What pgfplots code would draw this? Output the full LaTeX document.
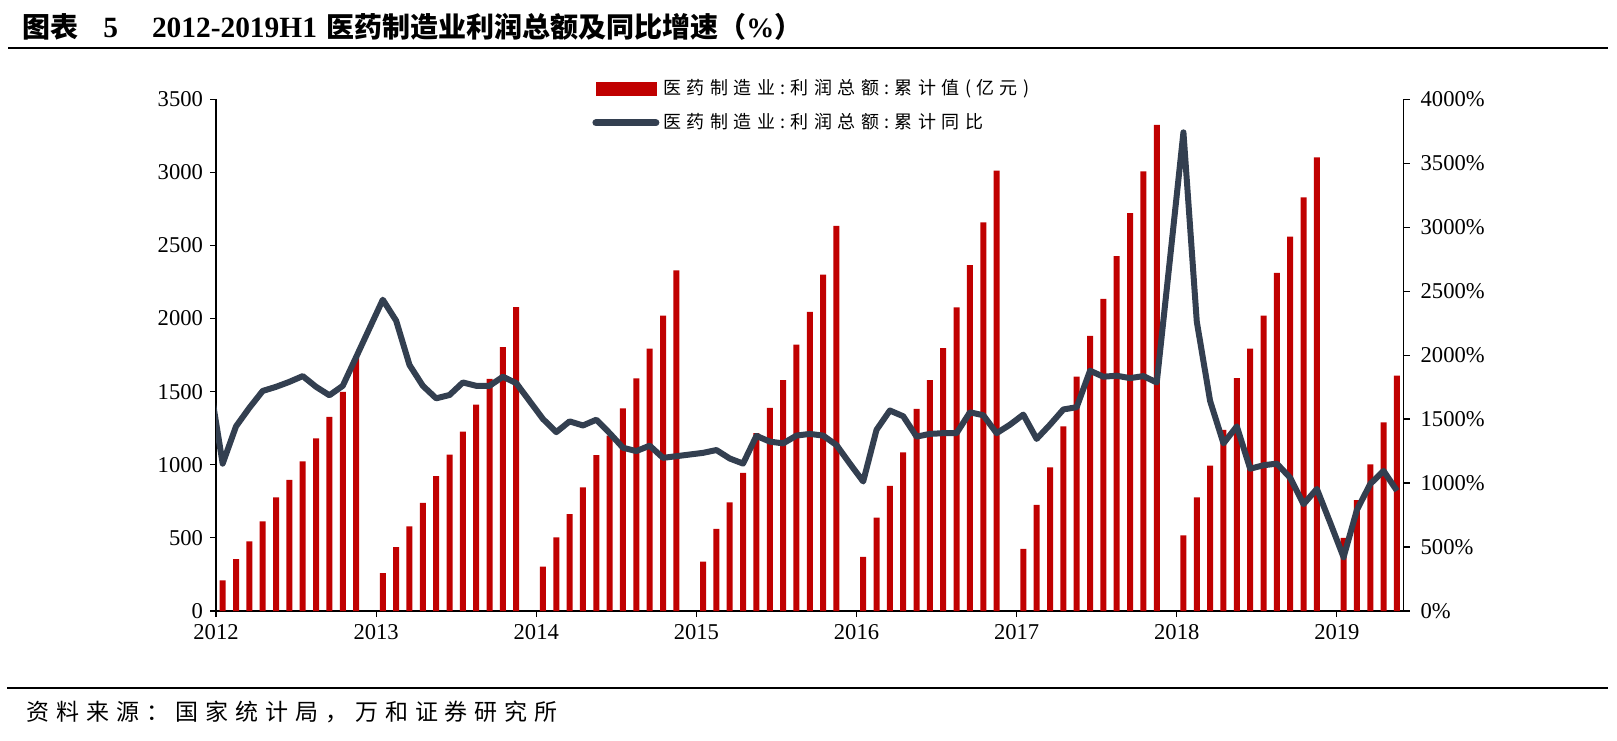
\documentclass[border=0pt]{standalone}
\usepackage{fontspec}
\setmainfont{Liberation Serif}
\newfontfamily\cjk{Noto Sans CJK SC}
\newfontfamily\cjksp[LetterSpace=30]{Noto Sans CJK SC}
\usepackage{pgfplots}
\pgfplotsset{compat=1.18}
\definecolor{barred}{HTML}{C00000}
\definecolor{linegray}{HTML}{333F50}

% cumulative profit (100 million yuan), x = month position
\pgfplotstableread{
x y
0.5 210
1.5 354
2.5 476
3.5 613
4.5 777
5.5 897
6.5 1024
7.5 1181
8.5 1327
9.5 1498
10.5 1736
12.5 259
13.5 437
14.5 578
15.5 740
16.5 922
17.5 1070
18.5 1227
19.5 1412
20.5 1588
21.5 1805
22.5 2078
24.5 303
25.5 504
26.5 663
27.5 846
28.5 1066
29.5 1200
30.5 1385
31.5 1590
32.5 1794
33.5 2020
34.5 2330
36.5 337
37.5 562
38.5 742
39.5 945
40.5 1216
41.5 1389
42.5 1579
43.5 1822
44.5 2046
45.5 2300
46.5 2633
48.5 370
49.5 638
50.5 855
51.5 1084
52.5 1382
53.5 1579
54.5 1798
55.5 2076
56.5 2365
57.5 2658
58.5 3012
60.5 425
61.5 726
62.5 982
63.5 1262
64.5 1602
65.5 1882
66.5 2134
67.5 2427
68.5 2721
69.5 3007
70.5 3324
72.5 518
73.5 777
74.5 994
75.5 1239
76.5 1593
77.5 1794
78.5 2020
79.5 2312
80.5 2561
81.5 2829
82.5 3102
84.5 500
85.5 758
86.5 1003
87.5 1290
88.5 1610
}\profit

% cumulative year-on-year growth (%)
\pgfplotstableread{
x y
-0.5 1800
0.5 1152
1.5 1443
2.5 1588
3.5 1720
4.5 1752
5.5 1791
6.5 1836
7.5 1752
8.5 1686
9.5 1760
10.5 1984
11.5 2209
12.5 2433
13.5 2269
14.5 1923
15.5 1760
16.5 1662
17.5 1688
18.5 1786
19.5 1760
20.5 1760
21.5 1831
22.5 1781
23.5 1641
24.5 1501
25.5 1398
26.5 1482
27.5 1450
28.5 1495
29.5 1390
30.5 1276
31.5 1250
32.5 1292
33.5 1197
34.5 1210
35.5 1223
36.5 1236
37.5 1258
38.5 1192
39.5 1152
40.5 1369
41.5 1324
42.5 1310
43.5 1371
44.5 1384
45.5 1371
46.5 1297
47.5 1152
48.5 1012
49.5 1416
50.5 1567
51.5 1522
52.5 1363
53.5 1384
54.5 1390
55.5 1390
56.5 1553
57.5 1530
58.5 1390
59.5 1456
60.5 1535
61.5 1345
62.5 1456
63.5 1575
64.5 1593
65.5 1878
66.5 1831
67.5 1839
68.5 1820
69.5 1836
70.5 1786
71.5 2760
72.5 3741
73.5 2262
74.5 1641
75.5 1310
76.5 1443
77.5 1112
78.5 1139
79.5 1152
80.5 1041
81.5 835
82.5 954
83.5 690
84.5 420
85.5 790
86.5 993
87.5 1095
88.5 940
}\growth

\pgfplotsset{
  common/.style={
    at={(108pt,64.5pt)}, anchor=south west,
    scale only axis, width=593.8pt, height=255.9pt,
    xmin=0, xmax=89, enlargelimits=false,
    axis line style={-, line width=0.75pt, black},
    tick align=outside, major tick length=3pt,
    tick style={black, line width=0.6pt},
    ticklabel style={font=\fontsize{11.3}{13}\selectfont},
    /pgf/number format/assume math mode=true,
    /pgf/number format/1000 sep={},
  }
}

\begin{document}
\begin{tikzpicture}
\path[use as bounding box] (0,0) rectangle (808.5pt,370pt);

% title and rules
\node[anchor=base west, inner sep=0pt, font=\fontsize{14}{16}\selectfont\cjk\bfseries] at (11.3pt,351pt) {图表};
\node[anchor=base west, inner sep=0pt, font=\fontsize{14.7}{16}\selectfont\bfseries] at (51.5pt,351pt) {5};
\node[anchor=base west, inner sep=0pt, font=\fontsize{14.7}{16}\selectfont\bfseries] at (75.8pt,351pt) {2012-2019H1};
\node[anchor=base west, inner sep=0pt, font=\fontsize{14}{16}\selectfont\cjk\bfseries] at (163pt,351pt)
  {医药制造业利润总额及同比增速（{\rmfamily\bfseries\%}）};
\draw[line width=1pt] (4pt,345.75pt) -- (804pt,345.75pt);
\draw[line width=0.8pt] (3.5pt,26pt) -- (804pt,26pt);
\node[anchor=west, inner sep=0pt, font=\fontsize{11.5}{13}\selectfont] at (13pt,14pt)
  {\cjksp 资料来源：国家统计局，万和证券研究所};

\begin{axis}[common,
  axis x line*=bottom, axis y line*=left,
  ymin=0, ymax=3500, ytick={0,500,...,3500},
  xtick={0,12,...,84},
  xticklabels={2012,2013,2014,2015,2016,2017,2018,2019},
]
\addplot[ybar, bar width=3pt, fill=barred, draw=none] table[x=x,y=y] {\profit};
\end{axis}

\begin{axis}[common,
  axis x line=none, axis y line*=right,
  ymin=0, ymax=4000, ytick={0,500,...,4000},
  yticklabel={\pgfmathprintnumber{\tick}\%},
  yticklabel style={xshift=2pt},
  legend style={at={(0.3166,1.047)}, anchor=north west, draw=none, fill=none,
    inner sep=0pt, row sep=4pt,
    font=\fontsize{9}{11}\selectfont\cjksp},
  legend cell align=left,
]
\addlegendimage{legend image code/.code={\fill[barred] (0pt,-3.3pt) rectangle (30pt,3.3pt);}}
\addlegendentry{医药制造业:利润总额:累计值(亿元)}
\addplot[linegray, line width=3pt, line join=round,
  legend image code/.code={\draw[linegray, line width=3.5pt, line cap=round] (0pt,0pt) -- (30pt,0pt);}]
  table[x=x,y=y] {\growth};
\addlegendentry{医药制造业:利润总额:累计同比}
\end{axis}
\end{tikzpicture}
\end{document}
